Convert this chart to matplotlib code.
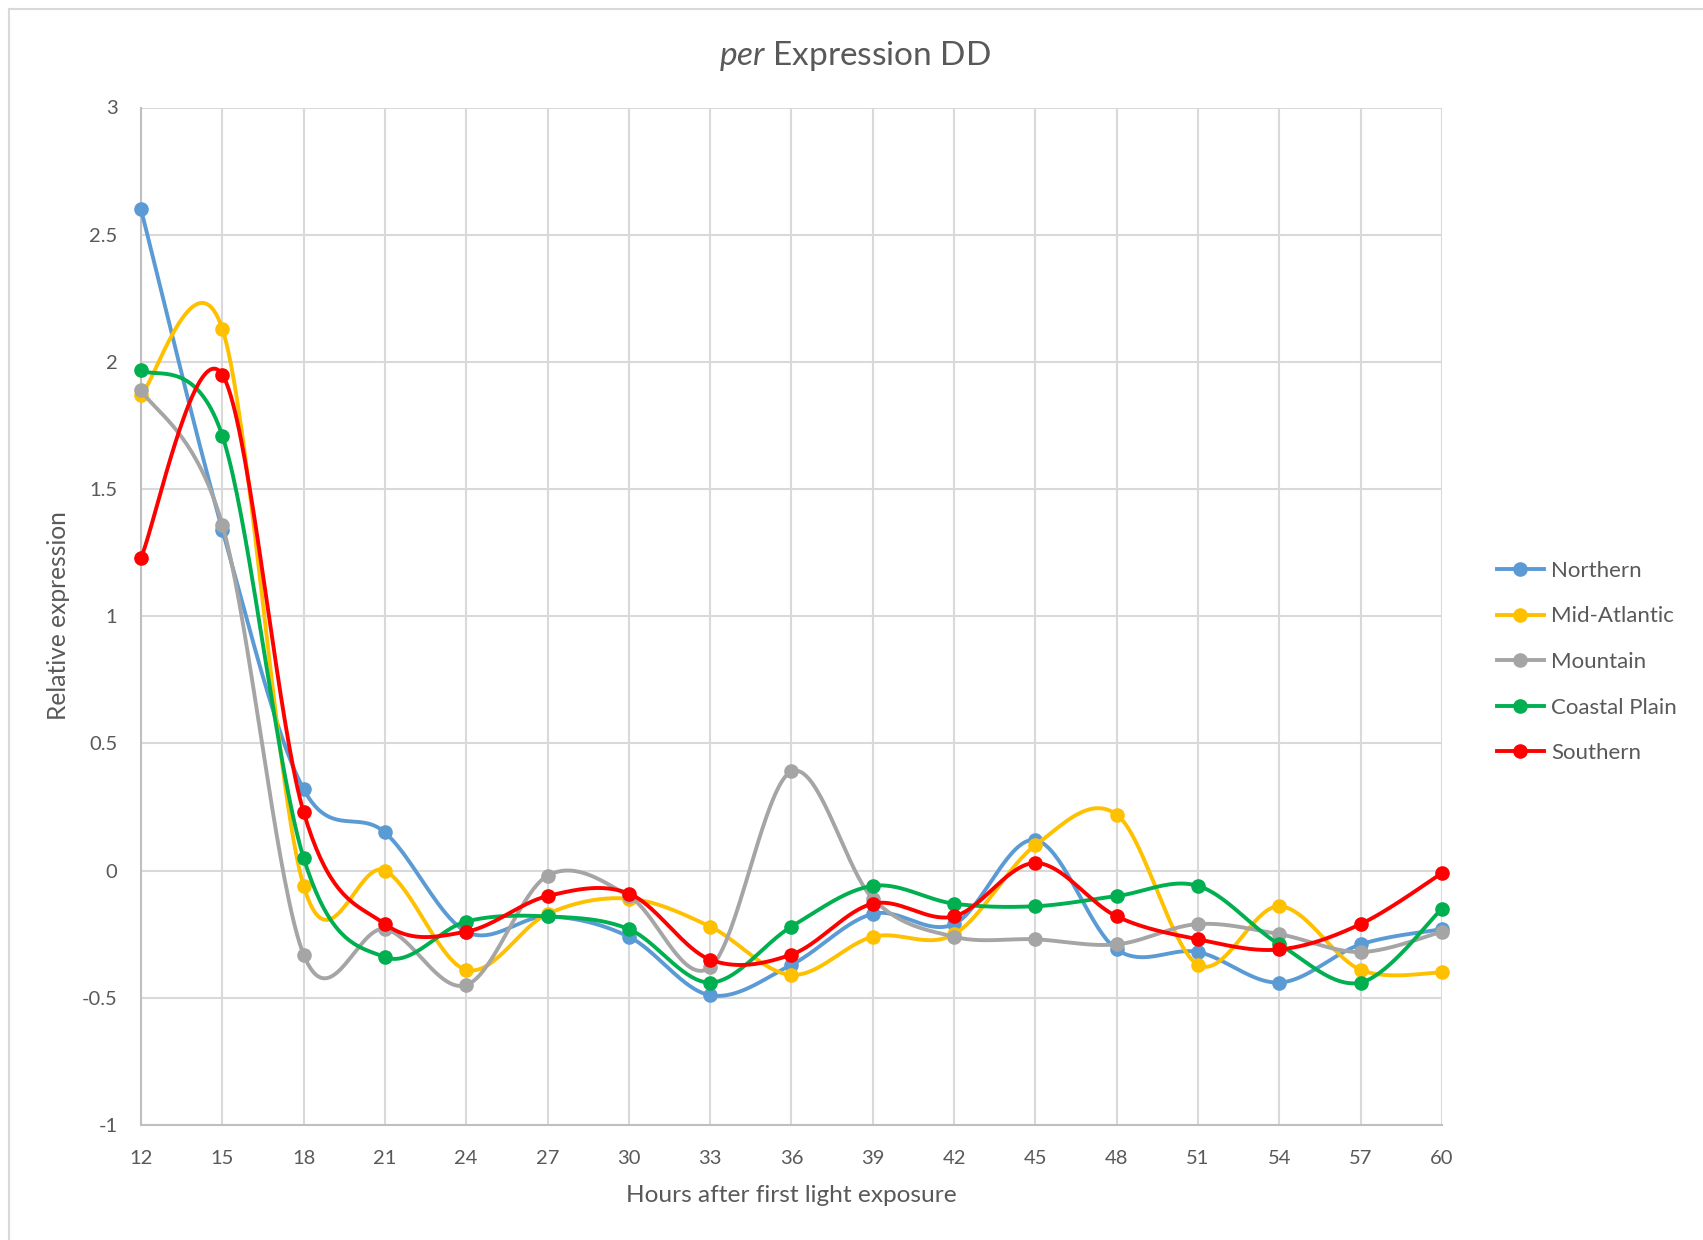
import numpy as np
import matplotlib
matplotlib.use('Agg')
import matplotlib.pyplot as plt
from matplotlib.lines import Line2D

plt.rcParams['font.family'] = ['Lato', 'DejaVu Sans']
plt.rcParams['mathtext.fontset'] = 'custom'
plt.rcParams['mathtext.it'] = 'Lato:italic'
plt.rcParams['mathtext.rm'] = 'Lato'

hours = [12, 15, 18, 21, 24, 27, 30, 33, 36, 39, 42, 45, 48, 51, 54, 57, 60]

northern = [2.60, 1.34, 0.32, 0.15, -0.24, -0.18, -0.26, -0.49, -0.37, -0.17, -0.21, 0.12, -0.31, -0.32, -0.44, -0.29, -0.23]
mid_atlantic = [1.87, 2.13, -0.06, 0.00, -0.39, -0.17, -0.11, -0.22, -0.41, -0.26, -0.25, 0.10, 0.22, -0.37, -0.14, -0.39, -0.40]
mountain = [1.89, 1.36, -0.33, -0.23, -0.45, -0.02, -0.10, -0.38, 0.39, -0.11, -0.26, -0.27, -0.29, -0.21, -0.25, -0.32, -0.24]
coastal = [1.97, 1.71, 0.05, -0.34, -0.20, -0.18, -0.23, -0.44, -0.22, -0.06, -0.13, -0.14, -0.10, -0.06, -0.29, -0.44, -0.15]
southern = [1.23, 1.95, 0.23, -0.21, -0.24, -0.10, -0.09, -0.35, -0.33, -0.13, -0.18, 0.03, -0.18, -0.27, -0.31, -0.21, -0.01]

names = ['Northern', 'Mid-Atlantic', 'Mountain', 'Coastal Plain', 'Southern']
colors = ['#5B9BD5', '#FFC000', '#A5A5A5', '#00B050', '#FF0000']
series = [northern, mid_atlantic, mountain, coastal, southern]


def smooth(x, y, n=40):
    # excel style bezier smoothing
    x = np.asarray(x, float)
    y = np.asarray(y, float)
    N = len(x)
    px, py = [], []
    t = np.linspace(0, 1, n)
    for i in range(N - 1):
        j0 = max(i - 1, 0)
        j3 = min(i + 2, N - 1)
        p0 = np.array([x[j0], y[j0]])
        p1 = np.array([x[i], y[i]])
        p2 = np.array([x[i + 1], y[i + 1]])
        p3 = np.array([x[j3], y[j3]])
        c1 = p1 + (p2 - p0) / 6
        c2 = p2 - (p3 - p1) / 6
        b = ((1 - t) ** 3)[:, None] * p1 + (3 * (1 - t) ** 2 * t)[:, None] * c1 \
            + (3 * (1 - t) * t ** 2)[:, None] * c2 + (t ** 3)[:, None] * p2
        px.extend(b[:, 0])
        py.extend(b[:, 1])
    return np.array(px), np.array(py)


W, H = 1703, 1240
fig = plt.figure(figsize=(W / 100, H / 100), dpi=100)
ax = fig.add_axes([141 / W, 1 - 1125 / H, (1442 - 141) / W, (1125 - 107.5) / H])

handles = []
for k, (name, c, vals) in enumerate(zip(names, colors, series)):
    sx, sy = smooth(hours, vals)
    ax.plot(sx, sy, color=c, lw=2.8, zorder=3 + k, clip_on=False, solid_capstyle='round')
    ax.plot(hours, vals, 'o', color=c, ms=9.5, zorder=3 + k, clip_on=False)
    handles.append(Line2D([], [], color=c, lw=2.8, marker='o', ms=9.5))

ax.set_xlim(12, 60)
ax.set_ylim(-1, 3)
ax.set_xticks(hours)
ax.set_yticks(np.arange(-1, 3.01, 0.5))
ax.set_yticklabels(['%g' % v for v in np.arange(-1, 3.01, 0.5)])
ax.grid(True, color='#D9D9D9', lw=1.5)
ax.set_axisbelow(True)
for s in ['top', 'right']:
    ax.spines[s].set_visible(False)
for s in ['left', 'bottom']:
    ax.spines[s].set_color('#BFBFBF')
    ax.spines[s].set_linewidth(1.5)
ax.tick_params(length=0, labelsize=14.5, colors='#595959')
ax.tick_params(axis='y', pad=17)
ax.tick_params(axis='x', pad=18)

fig.text(58.6 / W, 1 - 616 / H, 'Relative expression', rotation=90, ha='center', va='center',
         fontsize=17.7, color='#595959')
fig.text(791.5 / W, 1 - 1196 / H, 'Hours after first light exposure', ha='center', va='center',
         fontsize=17.6, color='#595959')
fig.text(855 / W, 1 - 56 / H, r'$\it{per}$ Expression DD', ha='center', va='center',
         fontsize=24, color='#595959')

leg = fig.legend(handles, names, loc='center left', bbox_to_anchor=(1477 / W, 1 - 662 / H),
                 frameon=False, fontsize=16, labelspacing=1.15, handlelength=2.1,
                 handletextpad=0.35, labelcolor='#595959')

# chart border
fig.add_artist(Line2D([9 / W, 1], [1 - 9 / H, 1 - 9 / H], color='#D9D9D9', lw=1.5))
fig.add_artist(Line2D([9 / W, 9 / W], [0, 1 - 9 / H], color='#D9D9D9', lw=1.5))

fig.savefig('out.png', dpi=100)
